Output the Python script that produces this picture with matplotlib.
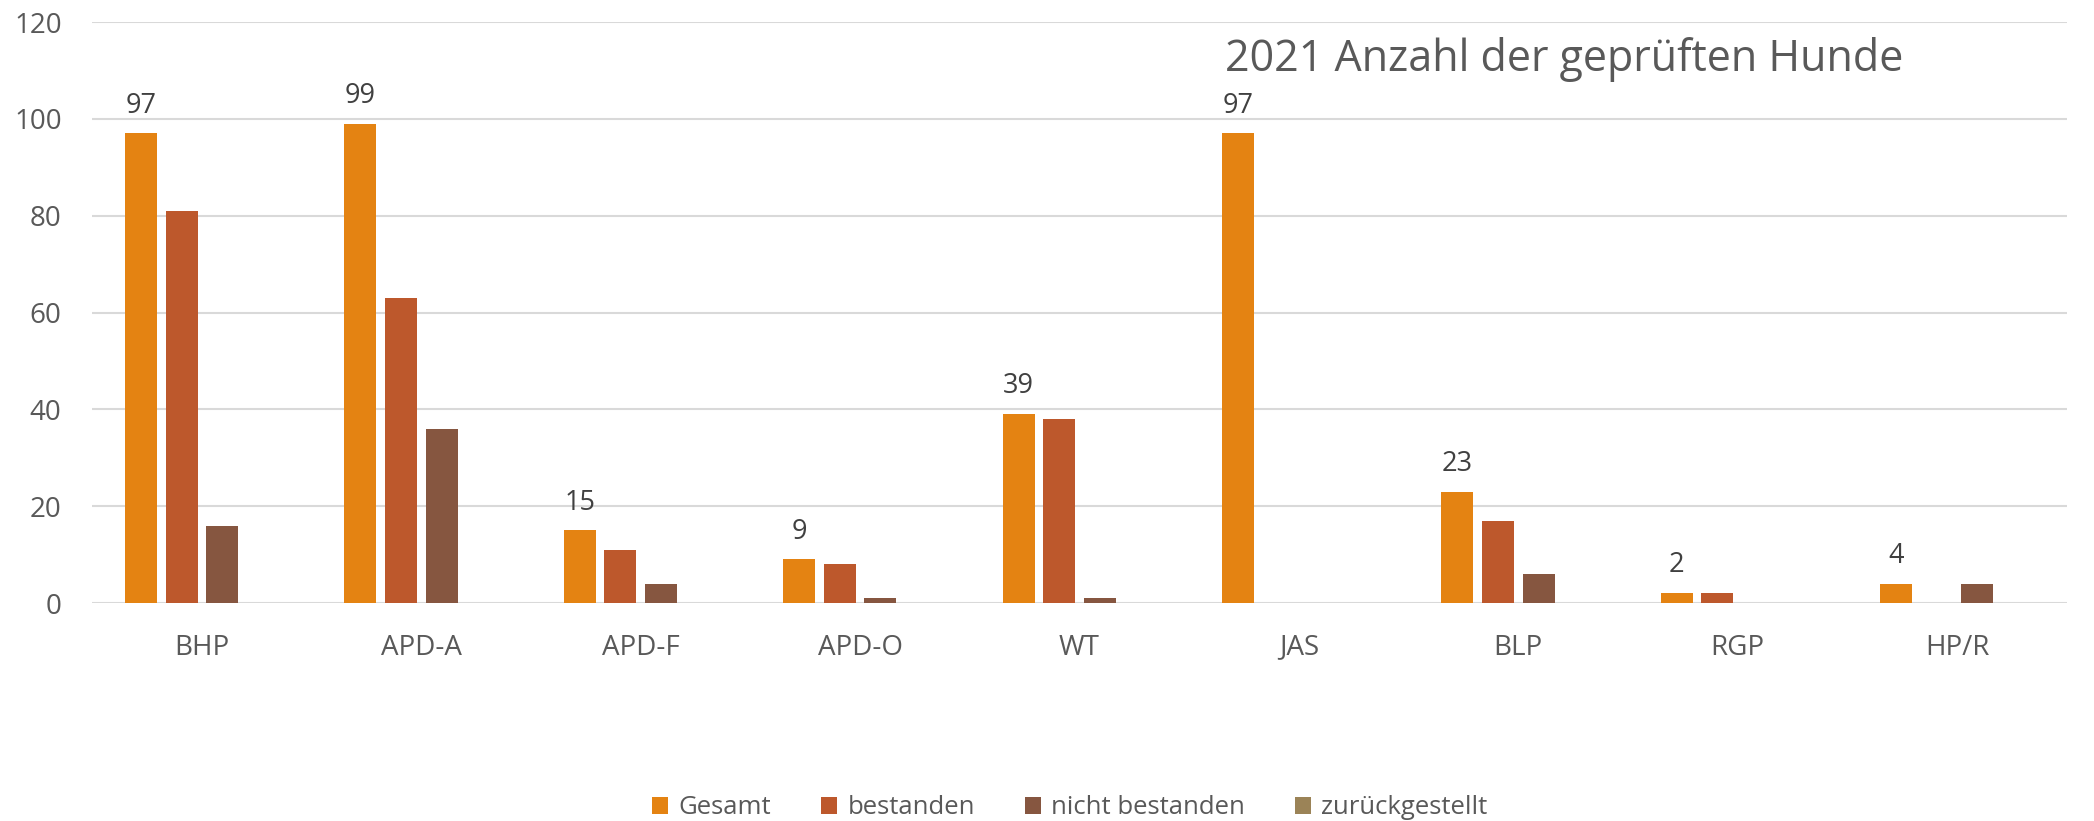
import matplotlib
matplotlib.use("Agg")
import matplotlib.pyplot as plt
import numpy as np

categories = ["BHP", "APD-A", "APD-F", "APD-O", "WT", "JAS", "BLP", "RGP", "HP/R"]
gesamt = [97, 99, 15, 9, 39, 97, 23, 2, 4]
bestanden = [81, 63, 11, 8, 38, 0, 17, 2, 0]
nicht_bestanden = [16, 36, 4, 1, 1, 0, 6, 0, 4]
zurueckgestellt = [0, 0, 0, 0, 0, 0, 0, 0, 0]
series_names = ["Gesamt", "bestanden", "nicht bestanden", "zurückgestellt"]
title = "2021 Anzahl der geprüften Hunde"

colors = ["#E48312", "#BD582C", "#865640", "#9B8357"]

plt.rcParams['font.family'] = ['Open Sans', 'DejaVu Sans']

fig = plt.figure(figsize=(20.94, 8.21), dpi=100)
ax = fig.add_axes([0.044, 0.2655, 0.943, 0.7075])

x = np.arange(len(categories))
step = 0.185
width = 0.146
all_series = [gesamt, bestanden, nicht_bestanden, zurueckgestellt]
for i, (vals, name, c) in enumerate(zip(all_series, series_names, colors)):
    bars = ax.bar(x + (i - 1.5) * step, vals, width=width, color=c, label=name, zorder=3)
    if i == 0:
        for b, v in zip(bars, vals):
            ax.annotate(str(v), (b.get_x() + b.get_width() / 2, v),
                        xytext=(0, 10), textcoords="offset points",
                        ha="center", va="bottom", fontsize=19.5, color="#404040")

ax.set_xlim(-0.5, len(categories) - 0.5)
ax.set_ylim(0, 120)
ax.set_yticks(np.arange(0, 121, 20))
ax.set_xticks(x)
ax.set_xticklabels(categories)
ax.tick_params(axis="both", length=0, labelsize=20, labelcolor="#595959")
ax.tick_params(axis="x", pad=22)
ax.tick_params(axis="y", pad=22)
ax.grid(axis="y", color="#D9D9D9", linewidth=1.5, zorder=0)
for s in ax.spines.values():
    s.set_visible(False)

fig.text(0.585, 0.927, title, ha="left", va="center", fontsize=31, color="#595959")

fig.legend(loc="center", bbox_to_anchor=(0.511, 0.016), ncol=4, frameon=False,
           fontsize=18.5, handlelength=0.62, handleheight=0.62, handletextpad=0.4,
           columnspacing=1.95, labelcolor="#595959")

fig.savefig("out.png", dpi=100)
